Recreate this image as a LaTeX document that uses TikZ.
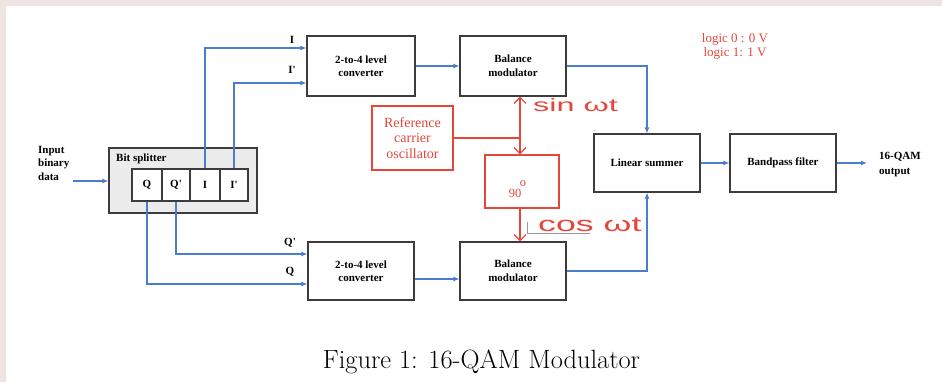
\documentclass[tikz,border=0pt]{standalone}
\usepackage{fontspec}
\usepackage{graphicx}
\newfontfamily\tnr{Liberation Serif}
\newfontfamily\hand{Liberation Sans}
\usetikzlibrary{arrows.meta,calc}
\definecolor{wire}{RGB}{74,125,205}
\definecolor{pen}{RGB}{229,70,58}
\definecolor{boxline}{RGB}{60,60,60}
\definecolor{edgetint}{RGB}{238,229,226}
\definecolor{splitfill}{RGB}{236,236,236}

\begin{document}
\begin{tikzpicture}[x=1pt,y=-1pt,
  blk/.style={draw=boxline, line width=1.1pt, inner sep=0pt, align=center,
    font=\tnr\bfseries\fontsize{11}{13.5}\selectfont},
  cell/.style={blk, fill=white, minimum height=32pt},
  lbl/.style={inner sep=0pt, font=\tnr\bfseries\fontsize{11}{13.5}\selectfont},
  wirearrow/.style={draw=wire, line width=1.3pt, -{Latex[length=6pt,width=5pt]}},
  redbox/.style={draw=pen, line width=1.2pt, inner sep=0pt, align=center, text=pen,
    font=\tnr\fontsize{14}{15.5}\selectfont},
  penline/.style={draw=pen, line width=1.2pt},
  penarrow/.style={penline, -{Straight Barb[length=6pt,width=12pt]}},
  handtext/.style={text=pen, inner sep=0pt, anchor=west},
]
% page and the strips of slide background at its edges
\fill[white] (0,0) rectangle (942,382);
\fill[edgetint] (0,0) rectangle (942,6);
\fill[edgetint] (0,0) rectangle (6,382);
\useasboundingbox (0,0) rectangle (942,382);

% bit splitter with its four output cells
\node[blk, fill=splitfill, minimum width=148pt, minimum height=65pt] (bs) at (183,180.5) {};
\node[lbl, anchor=west] (bst) at (116,159) {Bit splitter};
\node[cell, minimum width=30pt] (cq)  at (147,185) {Q};
\node[cell, minimum width=28pt] (cqp) at (176,185) {Q'};
\node[cell, minimum width=30pt] (ci)  at (205,185) {I};
\node[cell, minimum width=28pt] (cip) at (234,185) {I'};

\node[lbl, align=left, anchor=west] (inp) at (38,163) {Input\\binary\\data};
\coordinate (src) at (73,181);

% signal blocks
\node[blk, minimum width=108pt, minimum height=60pt] (tc)  at (361,66)  {2-to-4 level\\converter};
\node[blk, minimum width=106pt, minimum height=60pt] (tm)  at (513,66)  {Balance\\modulator};
\node[blk, minimum width=106pt, minimum height=58pt] (bc)  at (361,271) {2-to-4 level\\converter};
\node[blk, minimum width=106pt, minimum height=58pt] (bm)  at (513,271) {Balance\\modulator};
\node[blk, minimum width=106pt, minimum height=58pt] (sum) at (647,163) {Linear summer};
\node[blk, minimum width=106pt, minimum height=58pt] (bpf) at (783,163) {Bandpass filter};

\node[lbl, align=left, anchor=west, font=\tnr\bfseries\fontsize{11}{15}\selectfont] (outl) at (879,165) {16-QAM\\output};
\coordinate (dst) at (867,163);

% bit labels
\node[lbl] (li)  at (292,40)  {I};
\node[lbl] (lip) at (292,70)  {I'};
\node[lbl] (lqp) at (290,243) {Q'};
\node[lbl] (lq)  at (290,272) {Q};

% data paths
\draw[wirearrow] (src) -- (bs.west |- src);
\draw[wirearrow] (ci.north)  |- ([yshift=18pt]tc.west);
\draw[wirearrow] (cip.north) |- ([yshift=-17pt]tc.west);
\draw[wirearrow] (cq.south)  |- ([yshift=-13pt]bc.west);
\draw[wirearrow] (cqp.south) |- ([yshift=17pt]bc.west);
\draw[wirearrow] (tc.east) -- (tc.east -| tm.west);
\draw[wirearrow] ([yshift=-8pt]bc.east) -- ([yshift=-8pt]bc.east -| bm.west);
\draw[wirearrow] (tm.east) -| (sum.north);
\draw[wirearrow] (bm.east) -| (sum.south);
\draw[wirearrow] (sum) -- (bpf);
\draw[wirearrow] (bpf) -- (dst);

% carrier section, marked up in red
\node[redbox, minimum width=81pt, minimum height=64pt] (osc) at (412.5,138) {Reference\\carrier\\oscillator};
\node[redbox, minimum width=74pt, minimum height=53pt] (shift) at (522,181.5) {};
\node[text=pen, inner sep=0pt, anchor=base, font=\tnr\fontsize{12.5}{13}\selectfont] (deg) at (517.5,198)
  {90\hspace{-1.5pt}\raisebox{12pt}{o}};
\coordinate (tap) at (520,138);
\draw[penline] (osc.east) -- (tap);
\draw[penarrow] (tap) -- (tap |- tm.south);
\draw[penarrow] (tap) -- (tap |- shift.north);
\draw[penarrow] (tap |- shift.south) -- (tap |- bm.north);

\node[handtext, font=\hand\fontsize{18}{18}\selectfont] (sinl) at (533,105) {\scalebox{1.8}[1]{sin ωt}};
\node[handtext, font=\hand\fontsize{21}{21}\selectfont] (cosl) at (538,225) {\scalebox{1.7}[1]{cos ωt}};
\draw[black!40, line width=1pt] (527,222) -- (527,233) -- (590,233);

\node[text=pen, align=center, inner sep=0pt, font=\tnr\fontsize{13}{13.5}\selectfont] (logic) at (735,46.5)
  {logic 0 : 0 V\\logic 1: 1 V};

% caption
\node[inner sep=0pt, font=\fontsize{26.4}{30}\selectfont] (cap) at (481.5,362) {Figure 1: 16-QAM Modulator};
\end{tikzpicture}
\end{document}
